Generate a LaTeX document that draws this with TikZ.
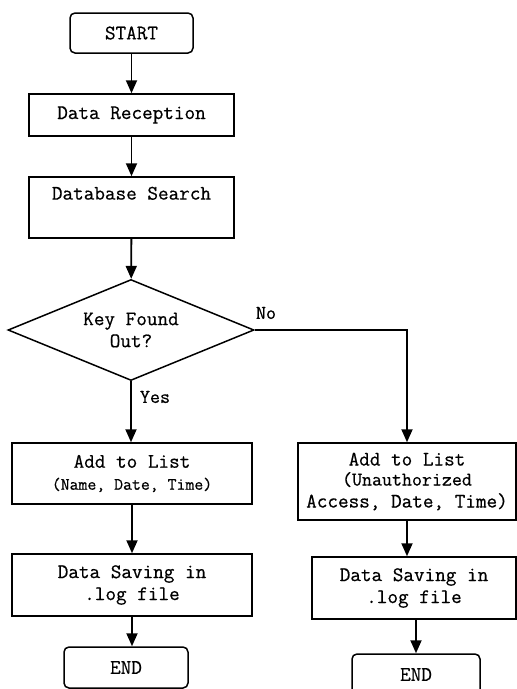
\documentclass[tikz,border=0pt]{standalone}
\usepackage{fontspec}
\setmonofont[FakeBold=0.6]{Latin Modern Mono}
\usetikzlibrary{shapes.geometric,arrows.meta}

\begin{document}
\begin{tikzpicture}[x=1pt,y=-1pt,
  every node/.style={font=\ttfamily\fontsize{20.6}{22}\selectfont, align=center, inner sep=0pt},
  procbox/.style={draw, line width=1.5pt, rectangle},
  termbox/.style={draw, line width=1.5pt, rectangle, rounded corners=5pt},
  decbox/.style={draw, line width=1.5pt, diamond, aspect=2.4},
  flow/.style={line width=1.8pt, -{Triangle[length=13pt,width=11pt]}},
  tag/.style={font=\ttfamily\fontsize{19.5}{20}\selectfont}
]
\clip (0,0) rectangle (517,689);

% main column
\node[termbox, minimum width=123pt, minimum height=40pt] (start) at (131.5,33) {START};
\node[procbox, minimum width=205pt, minimum height=42pt] (recv) at (131.5,115) {Data Reception};
\node[procbox, minimum width=205pt, minimum height=61pt] (search) at (131.5,207.5) {Database Search\\\strut};
\node[decbox, minimum width=246pt, minimum height=101pt] (key) at (131,330) {Key Found\\Out?};

% "Yes" branch
\node[procbox, minimum width=240pt, minimum height=61pt] (ladd) at (132,473.5)
  {Add to List\\\fontsize{17.3}{22}\selectfont (Name, Date, Time)};
\node[procbox, minimum width=240pt, minimum height=62pt] (lsave) at (132,585) {Data Saving in\\.log file};
\node[termbox, minimum width=124pt, minimum height=41pt] (lend) at (126,667.5) {END};

% "No" branch
\node[procbox, minimum width=218pt, minimum height=77pt] (radd) at (407,481.5)
  {Add to List\\[-2pt]\fontsize{19.4}{20}\selectfont (Unauthorized\\Access, Date, Time)};
\node[procbox, minimum width=204pt, minimum height=62pt] (rsave) at (414,588) {Data Saving in\\.log file};
\node[termbox, minimum width=128pt, minimum height=41pt] (rend) at (416,674.5) {END};

% branch labels
\node[tag] (yes) at (155,397) {Yes};
\node[tag] (no) at (266,313) {No};

% connectors
\draw[flow] (start) -- (recv);
\draw[flow] (recv) -- (search);
\draw[flow] (search) -- (key);
\draw[flow] (key.south) -- (ladd.north -| key.south);
\draw[flow] (key.east) -| (radd.north);
\draw[flow] (ladd.south) -- (lsave.north -| ladd.south);
\draw[flow] (lsave.south) -- (lend.north -| lsave.south);
\draw[flow] (radd.south) -- (rsave.north -| radd.south);
\draw[flow] (rsave.south -| rend.north) -- (rend.north);
\end{tikzpicture}
\end{document}
